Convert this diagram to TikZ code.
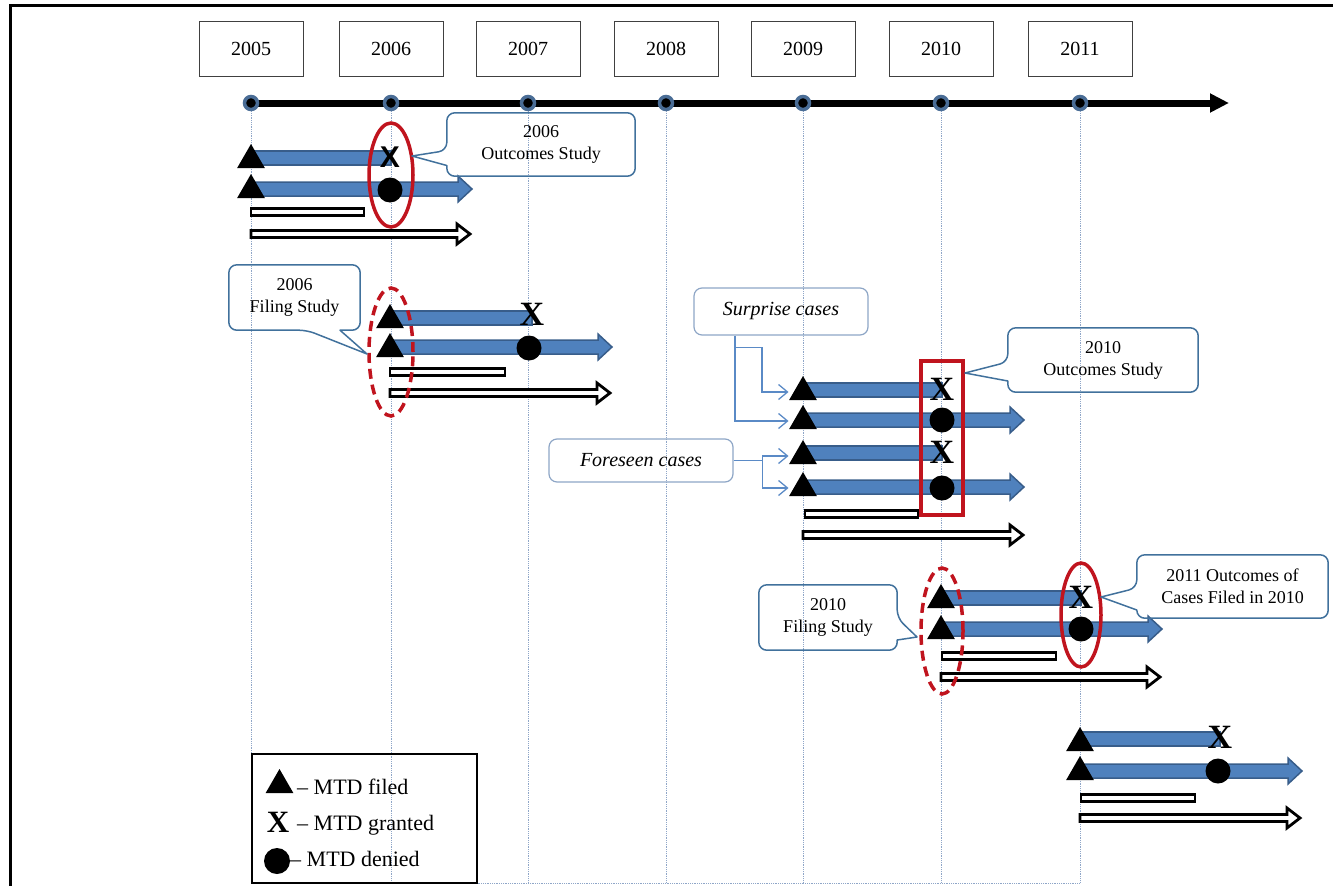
\documentclass[tikz,border=0pt]{standalone}
\usepackage{fontspec}
\setmainfont{Liberation Serif}
\newfontfamily\xsans{Liberation Sans}
\usetikzlibrary{shapes.geometric}
\usetikzlibrary{arrows.meta}
\usetikzlibrary{backgrounds}
\definecolor{shaftblue}{HTML}{4F81BD}
\definecolor{shaftedge}{HTML}{385D8A}
\definecolor{dotblue}{HTML}{4A6D96}
\definecolor{ringred}{HTML}{C0141E}
\definecolor{calloutblue}{HTML}{41719C}
\definecolor{caseedge}{HTML}{8EA6C6}
\definecolor{feedblue}{HTML}{5A8AC6}
\definecolor{gridblue}{HTML}{8FA6C8}

\tikzset{
  yearbox/.style={draw=black!75, line width=1, minimum width=104, minimum height=55, inner sep=0, font=\fontsize{20}{22}\selectfont},
  yeardot/.style={circle, fill=black, draw=dotblue, line width=3.5, minimum size=13, inner sep=0},
  timeline/.style={line width=7, -{Triangle[length=19pt,width=18pt]}},
  gridline/.style={draw=gridblue, line width=0.8, densely dotted},
  shaft/.style={fill=shaftblue, draw=shaftedge, line width=1.5},
  hollow/.style={draw=black, fill=white, line width=2.8},
  filed/.style={regular polygon, regular polygon sides=3, fill=black, minimum size=32, inner sep=0},
  denied/.style={circle, fill=black, minimum size=25, inner sep=0},
  granted/.style={inner sep=0, font=\bfseries\fontsize{34}{34}\selectfont},
  ring/.style={ellipse, draw=ringred, line width=3.5, inner sep=0},
  dashring/.style={ring, dash pattern=on 10pt off 6pt},
  callout/.style={draw=calloutblue, line width=1.5, line join=round},
  callouttext/.style={inner sep=0, align=center, font=\fontsize{18}{22}\selectfont},
  casebox/.style={draw=caseedge, line width=1.2, rounded corners=8, inner sep=0, font=\itshape\fontsize{20}{24}\selectfont},
  feed/.style={draw=feedblue, line width=1.3, shorten >=5, -{Straight Barb[length=9pt,width=15pt]}},
  legendtext/.style={inner sep=0, font=\fontsize{22}{26}\selectfont}
}
\newcommand{\mtdbar}[3]{\filldraw[shaft] (#1,#3-7) rectangle (#2,#3+7);}
\newcommand{\mtdarrow}[3]{\filldraw[shaft] (#1,#3-7) -- (#2-14,#3-7) -- (#2-14,#3-13) -- (#2,#3) -- (#2-14,#3+13) -- (#2-14,#3+7) -- (#1,#3+7) -- cycle;}
\newcommand{\hollowbar}[3]{\draw[hollow] (#1,#3-3.5) rectangle (#2,#3+3.5);}
\newcommand{\hollowarrow}[3]{\draw[hollow] (#1,#3-3.5) -- (#2-13,#3-3.5) -- (#2-13,#3-10) -- (#2,#3) -- (#2-13,#3+10) -- (#2-13,#3+3.5) -- (#1,#3+3.5) -- cycle;}

\begin{document}
\begin{tikzpicture}[x=1pt,y=-1pt]
\useasboundingbox (0,0) rectangle (1333,886);
\draw[line width=3] (1333,5) -- (10,5) -- (10,886);
% years and time axis
\coordinate (tl0) at (251,103);
\coordinate (tl1) at (1229,103);
\draw[timeline] (tl0) -- (tl1);
\foreach \yr/\xx in {2005/251,2006/391,2007/528,2008/666,2009/803,2010/941,2011/1080}{
  \node[yearbox] (y\yr) at (\xx,49) {\yr};
  \node[yeardot] (d\yr) at (\xx,103) {};
  \begin{scope}[on background layer]
    \draw[gridline] (d\yr) -- ++(0,779);
  \end{scope}
}
% 2006 outcomes study
\mtdbar{251}{391}{158}
\mtdarrow{251}{472}{189}
\hollowbar{251}{364}{212}
\hollowarrow{251}{470}{234}
\node[filed] (oa1) at (251,160) {};
\node[filed] (oa2) at (251,190) {};
\node[granted, font=\xsans\bfseries\fontsize{30}{30}\selectfont] (oa1x) at (390,157) {X};
\node[denied] (oa2o) at (390,190) {};
\node[ring, minimum width=44, minimum height=104] (oaring) at (391,175) {};
\node[callouttext, minimum width=188, minimum height=63] (oc06) at (541,144.5) {2006\\Outcomes Study};
\coordinate (oc06tip) at (412,156);
\draw[callout] ([yshift=-6]oc06.west) -- (oc06tip) -- ([yshift=-21]oc06.west) [rounded corners=8] -- (oc06.south west) -- (oc06.south east) -- (oc06.north east) -- (oc06.north west) -- cycle;
% 2006 filing study
\mtdbar{390}{532}{318}
\mtdarrow{390}{612}{347}
\hollowbar{390}{505}{372}
\hollowarrow{390}{610}{393}
\node[filed] (fa1) at (390,320) {};
\node[filed] (fa2) at (390,349) {};
\node[granted] (fa1x) at (532,314) {X};
\node[denied] (fa2o) at (529,348) {};
\node[dashring, minimum width=44, minimum height=128] (faring) at (391,352) {};
\node[callouttext, minimum width=131, minimum height=65] (fc06) at (294.5,297.5) {2006\\Filing Study};
\coordinate (fc06tip) at (367,354);
\draw[callout] ([xshift=12.5]fc06.south) -- (fc06tip) -- ([xshift=45.5]fc06.south) [rounded corners=8] -- (fc06.south east) -- (fc06.north east) -- (fc06.north west) -- (fc06.south west) -- cycle;
% 2010 outcomes study
\mtdbar{803}{942}{390}
\mtdarrow{803}{1024}{420}
\mtdbar{803}{942}{453}
\mtdarrow{803}{1024}{487}
\hollowbar{805}{918}{514}
\hollowarrow{803}{1023}{535}
\node[filed] (sa1) at (803,392) {};
\node[filed] (sa2) at (803,421) {};
\node[filed] (sa3) at (803,456) {};
\node[filed] (sa4) at (803,488) {};
\node[granted] (sa1x) at (942,389) {X};
\node[denied] (sa2o) at (942,420) {};
\node[granted] (sa3x) at (942,452) {X};
\node[denied] (sa4o) at (942,488) {};
\node[draw=ringred, line width=3.5, minimum width=42, minimum height=154, inner sep=0] (sabox) at (942,438) {};
\node[casebox, minimum width=174, minimum height=47] (surp) at (781,311.5) {Surprise cases};
\node[casebox, minimum width=184, minimum height=43] (fore) at (641,460.5) {Foreseen cases};
\draw[feed] ([xshift=-46]surp.south) |- (sa2.west);
\draw[feed] ([xshift=-46,yshift=-12]surp.south) -- ++(27,0) |- (sa1.west);
\draw[feed] (fore.east) -- ++(29,0) coordinate (forebr) |- (sa3.west);
\draw[feed] (forebr) |- (sa4.west);
\node[callouttext, minimum width=190, minimum height=64] (oc10) at (1103,360) {2010\\Outcomes Study};
\coordinate (oc10tip) at (965,373);
\draw[callout] ([yshift=-2]oc10.west) -- (oc10tip) -- ([yshift=-21]oc10.west) [rounded corners=8] -- (oc10.south west) -- (oc10.south east) -- (oc10.north east) -- (oc10.north west) -- cycle;
% 2010 filing study and 2011 outcomes
\mtdbar{941}{1081}{598}
\mtdarrow{941}{1162}{629}
\hollowbar{942}{1056}{656}
\hollowarrow{941}{1160}{677}
\node[filed] (ga1) at (941,600) {};
\node[filed] (ga2) at (941,631) {};
\node[granted] (ga1x) at (1081,597) {X};
\node[denied] (ga2o) at (1081,629) {};
\node[dashring, minimum width=42, minimum height=126] (garing) at (942,631) {};
\node[ring, minimum width=40, minimum height=104] (gbring) at (1081,615) {};
\node[callouttext, minimum width=138, minimum height=65] (fc10) at (828,617.5) {2010\\Filing Study};
\coordinate (fc10tip) at (917,637);
\draw[callout] ([yshift=-0.5]fc10.east) -- (fc10tip) -- ([yshift=-22.5]fc10.east) [rounded corners=8] -- (fc10.south east) -- (fc10.south west) -- (fc10.north west) -- (fc10.north east) -- cycle;
\node[callouttext, minimum width=191, minimum height=63] (oc11) at (1232.5,586.5) {2011 Outcomes of\\Cases Filed in 2010};
\coordinate (oc11tip) at (1101,597);
\draw[callout] ([yshift=-1.5]oc11.west) -- (oc11tip) -- ([yshift=-23.5]oc11.west) [rounded corners=8] -- (oc11.south west) -- (oc11.south east) -- (oc11.north east) -- (oc11.north west) -- cycle;
% 2011 cases
\mtdbar{1080}{1220}{739}
\mtdarrow{1080}{1302}{771}
\hollowbar{1081}{1195}{798}
\hollowarrow{1080}{1300}{818}
\node[filed] (ha1) at (1080,743) {};
\node[filed] (ha2) at (1080,772) {};
\node[granted] (ha1x) at (1220,737) {X};
\node[denied] (ha2o) at (1218,771) {};
% legend
\node[draw, line width=1.2, minimum width=225, minimum height=129, inner sep=0] (legend) at (364.5,818.5) {};
\draw[gridline] (legend.south east) -- (d2011 |- legend.south east);
\node[filed] (lg1) at (279.5,785) {};
\node[granted, font=\bfseries\fontsize{31}{31}\selectfont] (lg2) at (278,822) {X};
\node[denied, minimum size=26] (lg3) at (277,861) {};
\node[legendtext, anchor=base west] (lt1) at (297,794) {– MTD filed};
\node[legendtext, anchor=base west] (lt2) at (297,830) {– MTD granted};
\node[legendtext, anchor=base west] (lt3) at (290,866) {– MTD denied};
\end{tikzpicture}
\end{document}
